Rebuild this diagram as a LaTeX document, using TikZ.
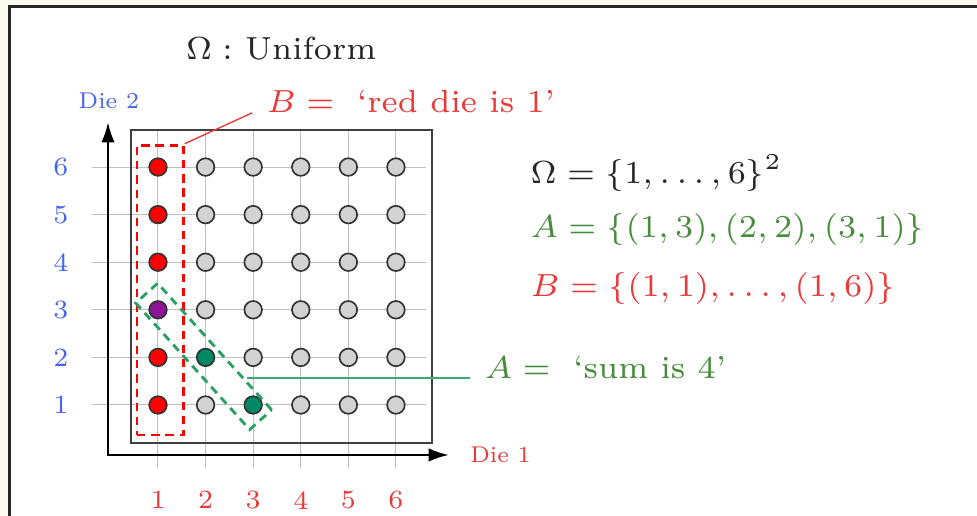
\documentclass[tikz,border=0pt]{standalone}
\usepackage{amsmath}
\usepackage{tikz}
\usetikzlibrary{positioning,arrows.meta,calc}
\definecolor{cream}{RGB}{250,250,240}
\definecolor{dieblue}{RGB}{70,100,235}
\definecolor{diered}{RGB}{235,55,55}
\definecolor{diegreen}{RGB}{70,140,60}
\definecolor{dotteal}{RGB}{0,135,100}
\definecolor{dotpurple}{RGB}{140,20,150}
\definecolor{dashgreen}{RGB}{40,160,100}
\definecolor{linegreen}{RGB}{60,170,110}
\tikzset{
  biglab/.style={font=\fontsize{7}{8}\selectfont,scale=2.73,inner sep=0pt},
  axislab/.style={font=\fontsize{7}{8}\selectfont,scale=1.95,inner sep=0pt},
  ticklab/.style={font=\fontsize{7}{8}\selectfont,scale=2.25},
  dot/.style={circle,draw=black!80,line width=1pt,fill=gray!35,minimum size=0.37cm,inner sep=0pt},
  evbox/.style={dashed,line width=1.7pt,dash pattern=on 5pt off 3.5pt,inner sep=0pt}
}

\begin{document}
\begin{tikzpicture}[>={Latex[length=12pt,width=8pt]}]
  \useasboundingbox (-2.32,-1.33) rectangle (18.21,9.51);
  \clip (-2.32,-1.33) rectangle (18.21,9.51);
  % ---------------- frame ----------------
  \fill[cream] (-2.32,-1.33) rectangle (18.21,9.51);
  \draw[line width=1.4pt,black!85,fill=white] (-2.12,-3) rectangle (20,9.37);
  % ---------------- grid and ticks ----------------
  \foreach \c in {1,...,6}{
    \draw[black!25,line width=0.6pt] (\c,-0.33) -- (\c,6.77);
    \node[ticklab,text=diered] at (\c,-1.0) {\c};
  }
  \foreach \r in {1,...,6}{
    \draw[black!25,line width=0.6pt] (-0.39,\r) -- (6.63,\r);
    \node[ticklab,text=dieblue] at (-1.04,\r) {\r};
  }
  \draw[line width=1.2pt,black!75] (0.43,0.2) rectangle (6.76,6.77);
  \draw[<->,line width=1.2pt] (-0.05,6.94) |- (7.11,-0.05);
  \node[axislab,anchor=base west,text=dieblue] (die2) at (-0.68,7.24) {Die 2};
  \node[axislab,anchor=base west,text=diered] (die1) at (7.55,-0.20) {Die 1};
  % ---------------- outcomes ----------------
  \foreach \c in {1,...,6}{
    \foreach \r in {1,...,6}{
      \pgfmathtruncatemacro\s{\c+\r}
      \ifnum\c=1
        \ifnum\s=4 \def\col{dotpurple}\else\def\col{red}\fi
      \else
        \ifnum\s=4 \def\col{dotteal}\else\def\col{gray!35}\fi
      \fi
      \node[dot,fill=\col] (p\c\r) at (\c,\r) {};
    }
  }
  % ---------------- events ----------------
  \node[evbox,draw=red,minimum width=0.97cm,minimum height=6.09cm] (Bbox) at (1.045,3.415) {};
  \node[evbox,draw=dashgreen,rotate=-48,minimum width=3.58cm,minimum height=0.62cm] (Abox) at (1.96,2.02) {};
  \node[biglab,anchor=base west,text=black!85] (title) at (1.57,8.25) {$\Omega:$ Uniform};
  \node[biglab,anchor=base west,inner xsep=3pt,text=diered] (Blab) at (2.98,7.14) {$B={}$ `red die is 1'};
  \node[biglab,anchor=base west,inner xsep=3pt,text=diegreen] (Alab) at (7.56,1.565) {$A={}$ `sum is 4'};
  \draw[diered,line width=0.8pt] (Bbox.north east) -- (Blab.base west);
  \path (Abox.north west) -- (Abox.north east) coordinate[pos=0.767] (Aend);
  \draw[linegreen,line width=0.8pt] (Alab.base west) -- (Alab.base west -| Aend);
  % ---------------- sets ----------------
  \node[biglab,anchor=base west,text=black!85] (omset) at (8.81,5.66) {$\Omega=\{1,\dots,6\}^2$};
  \node[biglab,anchor=base west,text=diegreen] (Aset) at (8.81,4.51) {$A=\{(1,3),(2,2),(3,1)\}$};
  \node[biglab,anchor=base west,text=diered] (Bset) at (8.81,3.27) {$B=\{(1,1),\dots,(1,6)\}$};
\end{tikzpicture}
\end{document}
